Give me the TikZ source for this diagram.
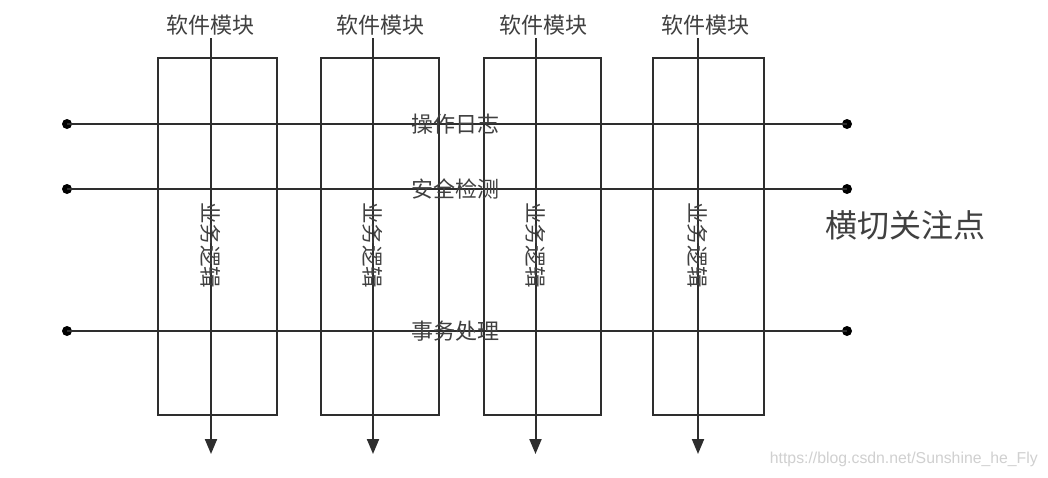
\documentclass[tikz,border=0pt]{standalone}
\usepackage{fontspec}
\setmainfont{Liberation Sans}
\newfontfamily\cjk{Noto Sans CJK SC}
\usetikzlibrary{arrows.meta}
\definecolor{ink}{HTML}{2E2E2E}
\definecolor{txt}{HTML}{404040}
\definecolor{wm}{HTML}{D0D0D0}
\begin{document}
\begin{tikzpicture}[x=1pt,y=-1pt,
  modbox/.style={draw=ink,line width=2pt,inner sep=0pt,outer sep=0pt,minimum height=357pt},
  flow/.style={draw=ink,line width=2pt,-{Triangle[length=15pt,width=12pt]}},
  hline/.style={draw=ink,line width=2pt},
  dot/.style={circle,fill=black,inner sep=0pt,minimum size=10pt},
  lbl/.style={font=\cjk\fontsize{22}{26}\selectfont,text=txt,inner sep=0pt},
  vlbl/.style={font=\cjk\fontsize{21.5}{26}\selectfont,text=txt,inner sep=0pt,rotate=-90},
  big/.style={font=\cjk\fontsize{32}{38}\selectfont,text=txt,inner sep=0pt},
  wmtext/.style={font=\fontsize{15.8}{18}\selectfont,text=wm,inner sep=0pt}]
\useasboundingbox[fill=white] (0,0) rectangle (1048,477);

% module boxes
\node[modbox,minimum width=119pt] (b1) at (217.5,236.5) {};
\node[modbox,minimum width=118pt] (b2) at (379.5,236.5) {};
\node[modbox,minimum width=117pt] (b3) at (542,236.5) {};
\node[modbox,minimum width=111pt] (b4) at (708,236.5) {};

% horizontal cross-cutting lines
\node[dot] (l1) at (67,124) {};
\node[dot] (r1) at (847,124) {};
\node[dot] (l2) at (67,189) {};
\node[dot] (r2) at (847,189) {};
\node[dot] (l3) at (67,331) {};
\node[dot] (r3) at (847,331) {};
\draw[hline] (l1.center) -- (r1.center);
\draw[hline] (l2.center) -- (r2.center);
\draw[hline] (l3.center) -- (r3.center);
\node[lbl] (h1) at (455,124) {操作日志};
\node[lbl] (h2) at (455,189) {安全检测};
\node[lbl] (h3) at (455,331) {事务处理};

% vertical flows
\coordinate (t1) at (211,38);  \coordinate (e1) at (211,454);
\coordinate (t2) at (373,38);  \coordinate (e2) at (373,454);
\coordinate (t3) at (535.5,38); \coordinate (e3) at (535.5,454);
\coordinate (t4) at (698,38);  \coordinate (e4) at (698,454);
\draw[flow] (t1) -- (e1);
\draw[flow] (t2) -- (e2);
\draw[flow] (t3) -- (e3);
\draw[flow] (t4) -- (e4);

% top labels
\node[lbl] (m1) at (210,25) {软件模块};
\node[lbl] (m2) at (380,25) {软件模块};
\node[lbl] (m3) at (543,25) {软件模块};
\node[lbl] (m4) at (705,25) {软件模块};

% vertical labels
\node[vlbl] (v1) at (211,245) {业务逻辑};
\node[vlbl] (v2) at (373,245) {业务逻辑};
\node[vlbl] (v3) at (535.5,245) {业务逻辑};
\node[vlbl] (v4) at (698,245) {业务逻辑};

\node[big] (cc) at (905.5,225) {横切关注点};
\node[wmtext,anchor=east] (wmk) at (1038,459) {https://blog.csdn.net/Sunshine\_he\_Fly};
\end{tikzpicture}
\end{document}
